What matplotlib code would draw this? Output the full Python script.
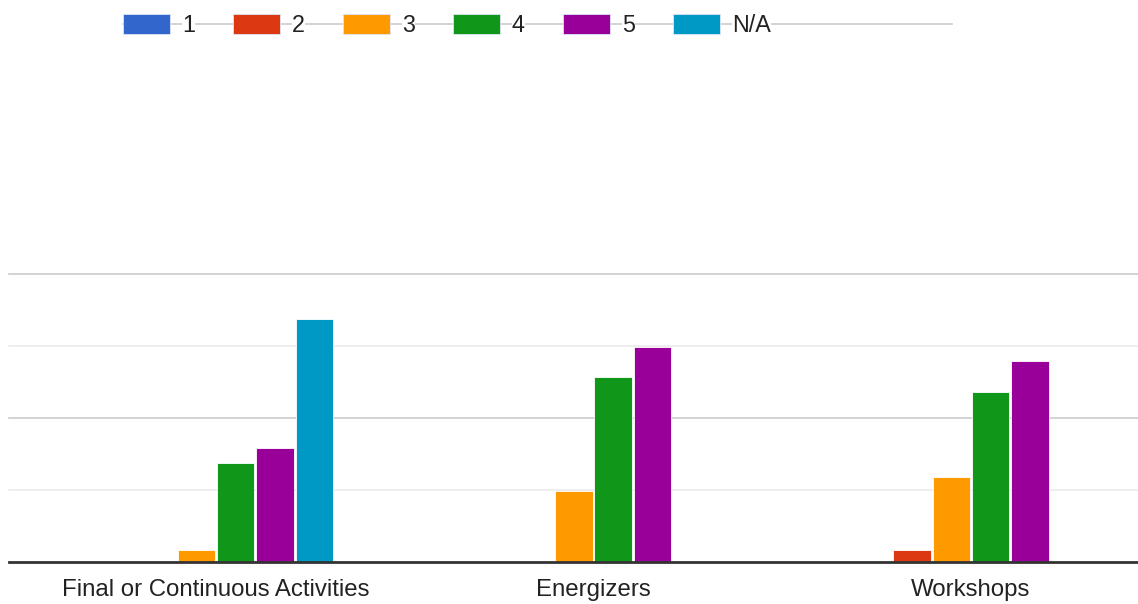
import matplotlib
matplotlib.use("Agg")
import matplotlib.pyplot as plt
from matplotlib.patches import Rectangle
import numpy as np

plt.rcParams['font.family'] = ['Liberation Sans', 'DejaVu Sans']

categories = ["Final or Continuous Activities", "Energizers", "Workshops"]
series_names = ["1", "2", "3", "4", "5", "N/A"]
series_colors = ["#3366cc", "#dc3912", "#ff9900", "#109618", "#990099", "#0099c6"]

# values per rating, one list per series (in category order)
vals_1 = [0.0, 0.0, 0.0]
vals_2 = [0.0, 0.0, 0.85]
vals_3 = [0.85, 4.95, 5.9]
vals_4 = [6.87, 12.85, 11.83]
vals_5 = [7.95, 14.95, 13.94]
vals_na = [16.9, 0.0, 0.0]
series_values = [vals_1, vals_2, vals_3, vals_4, vals_5, vals_na]

W, H = 1138, 604
fig = plt.figure(figsize=(W / 100, H / 100), dpi=100)

def fx(px):
    return px / W

def fy(py):
    return 1 - py / H

# plot area in pixel terms
left_px, right_px, top_px, bottom_px = 9, 1138, 274, 562.3
ax = fig.add_axes([fx(left_px), fy(bottom_px), fx(right_px - left_px), (bottom_px - top_px) / H])

group_px = 377.5
center0_px = 216
x = np.arange(len(categories))
ax.set_xlim((left_px - center0_px) / group_px, (right_px - center0_px) / group_px)
ax.set_ylim(0, 20)

pitch = 39.3 / group_px
bar_w = 37.5 / group_px
n = len(series_names)
for i, (vals, col) in enumerate(zip(series_values, series_colors)):
    offs = (i - (n - 1) / 2) * pitch
    v = np.array(vals)
    mask = v > 0
    ax.bar(x[mask] + offs, v[mask], width=bar_w, color=col,
           edgecolor="white", linewidth=0.6, zorder=3)

# gridlines: major at 0/10/20, minor at 5/15
for yv, c in [(5, "#ebebeb"), (10, "#cccccc"), (15, "#ebebeb"), (20, "#cccccc")]:
    ax.axhline(yv, color=c, linewidth=1.2, zorder=1, clip_on=False)
ax.axhline(0, color="#333333", linewidth=2.0, zorder=4, clip_on=False)

for s in ax.spines.values():
    s.set_visible(False)
ax.set_yticks([])
ax.set_xticks(x)
ax.set_xticklabels(categories, fontsize=17.3, color="#222222")
ax.tick_params(axis="x", length=0, pad=12)

# legend row across the top
leg_y = 24
ax_leg = fig.add_axes([0, 0, 1, 1], facecolor="none")
ax_leg.set_xlim(0, W)
ax_leg.set_ylim(H, 0)
ax_leg.axis("off")
ax_leg.plot([123, 952], [leg_y, leg_y], color="#cccccc", linewidth=1.2, zorder=1)
for i, (name, col) in enumerate(zip(series_names, series_colors)):
    x0 = 123 + i * 110
    ax_leg.add_patch(Rectangle((x0, leg_y - 10), 47, 20, facecolor=col,
                               edgecolor="#dde6f5", linewidth=0.6, zorder=2))
    ax_leg.text(x0 + 59, leg_y + 1, name, fontsize=16.8, color="#222222",
                va="center", ha="left", zorder=3,
                bbox=dict(facecolor="white", edgecolor="none", pad=0.3))

fig.savefig("out.png", dpi=100)
